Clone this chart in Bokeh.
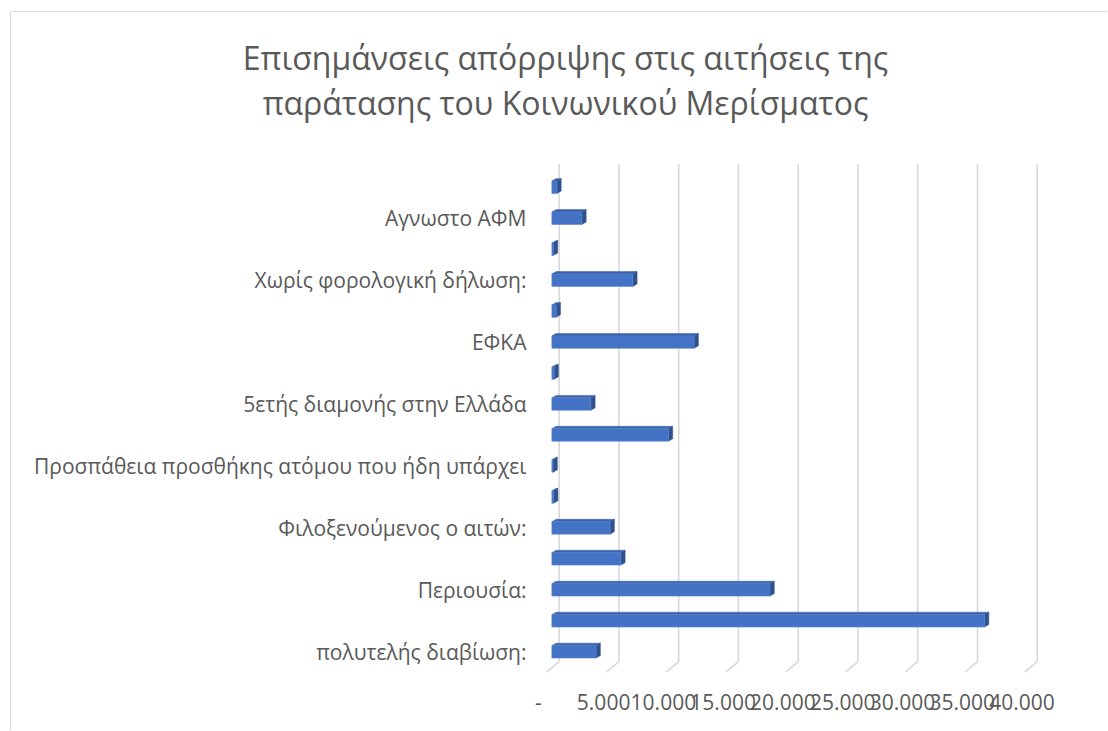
from bokeh.plotting import figure
from bokeh.models import FixedTicker, Range1d, LinearAxis
from bokeh.layouts import column
from bokeh.embed import file_html
from bokeh.resources import INLINE
from bokeh.core.properties import value

# ---------------- data ----------------
title_lines = ["Επισημάνσεις απόρριψης στις αιτήσεις της",
               "παράτασης του Κοινωνικού Μερίσματος"]
# bottom -> top; "" = category whose label Excel skipped
categories = ["πολυτελής διαβίωση:", "", "Περιουσία:", "",
              "Φιλοξενούμενος ο αιτών:", "",
              "Προσπάθεια προσθήκης ατόμου που ήδη υπάρχει", "",
              "5ετής διαμονής στην Ελλάδα", "", "ΕΦΚΑ", "",
              "Χωρίς φορολογική δήλωση:", "", "Αγνωστο ΑΦΜ", ""]
values = [3700, 36200, 18250, 5770, 4870, 150, 100, 9750,
          3260, 190, 11900, 360, 6770, 130, 2510, 420]
x_ticks = [0, 5000, 10000, 15000, 20000, 25000, 30000, 35000, 40000]
x_tick_labels = ["-", "5.000", "10.000", "15.000", "20.000",
                 "25.000", "30.000", "35.000", "40.000"]

# ---------------- styling ----------------
FONT = "Open Sans"
TXT = "#595959"
GRID = "#D9D9D9"
FRONT = "#4472C4"
TOP = "#3A63AD"
SIDE = "#2F528F"
W = 1096

# ---------------- title block ----------------
tf = figure(width=W, height=150, output_backend="svg", toolbar_location=None,
            x_range=Range1d(0, W), y_range=Range1d(150, 0),
            x_axis_location=None, y_axis_location=None,
            min_border=0, outline_line_color=None, frame_align=False)
tf.xgrid.visible = False
tf.ygrid.visible = False
tf.text(x=[554, 554], y=[45, 90], text=title_lines, text_align="center",
        text_baseline="middle", text_font=value(FONT),
        text_font_size="32px", text_color=TXT)

# ---------------- chart ----------------
idx = list(range(len(values)))
bar_h = 0.40
dx = 360       # 3D depth of bar (x, data units)
dy = 0.08      # 3D depth of bar (y, index units)
back_dx = 611  # back-wall offset for gridlines
front_dx = -419
floor_back, floor_front, wall_top = -0.32, -0.645, 15.76
X0, X1 = -700, 40800
label_shift = 670  # front-floor shift of the value axis labels

p = figure(width=W, height=568, output_backend="svg", toolbar_location=None,
           x_range=Range1d(X0, X1), y_range=Range1d(-0.7, 15.8),
           x_axis_location=None, frame_align=False,
           min_border_left=532, min_border_right=68, min_border_top=0,
           min_border_bottom=57, outline_line_color=None)
p.xgrid.visible = False
p.ygrid.visible = False

gx = [t + back_dx for t in x_ticks]
p.segment(x0=gx, y0=[floor_back] * len(gx), x1=gx, y1=[wall_top] * len(gx),
          line_color=GRID, line_width=1.6)
p.segment(x0=gx, y0=[floor_back] * len(gx), x1=[t + front_dx for t in x_ticks],
          y1=[floor_front] * len(gx), line_color=GRID, line_width=1.6)

top_xs, top_ys, side_xs, side_ys = [], [], [], []
for i, v in zip(idx, values):
    yt, yb = i + bar_h / 2, i - bar_h / 2
    top_xs.append([0, v, v + dx, dx])
    top_ys.append([yt, yt, yt + dy, yt + dy])
    side_xs.append([v, v + dx, v + dx, v])
    side_ys.append([yb, yb + dy, yt + dy, yt])
p.patches(top_xs, top_ys, fill_color=TOP, line_color=TOP, line_width=0.5)
p.patches(side_xs, side_ys, fill_color=SIDE, line_color=SIDE, line_width=0.5)
p.hbar(y=idx, left=0, right=values, height=bar_h, fill_color=FRONT,
       line_color="#5B84CC", line_width=0.6)

p.extra_x_ranges = {"floor": Range1d(X0 + label_shift, X1 + label_shift)}
xax = LinearAxis(x_range_name="floor")
p.add_layout(xax, "below")
xax.ticker = FixedTicker(ticks=x_ticks)
xax.major_label_overrides = {t: (l + "\u00a0" * 2 if l == "-" else l)
                             for t, l in zip(x_ticks, x_tick_labels)}

p.yaxis.ticker = FixedTicker(ticks=[i for i, c in zip(idx, categories) if c])
p.yaxis.major_label_overrides = {i: c for i, c in zip(idx, categories) if c}
for ax in (xax, p.yaxis[0]):
    ax.axis_line_color = None
    ax.major_tick_line_color = None
    ax.minor_tick_line_color = None
    ax.major_tick_out = 0
    ax.major_tick_in = 0
    ax.major_label_text_font = FONT
    ax.major_label_text_color = TXT
    ax.major_label_text_font_size = "21px"
p.yaxis.major_label_standoff = 17
xax.major_label_standoff = 14

layout = column(tf, p, spacing=0)
layout.styles = {"margin-left": "10px", "margin-top": "11px",
                 "border-left": "1px solid #D9D9D9", "border-top": "1px solid #D9D9D9"}

open("out.html", "w").write(file_html(layout, INLINE))
